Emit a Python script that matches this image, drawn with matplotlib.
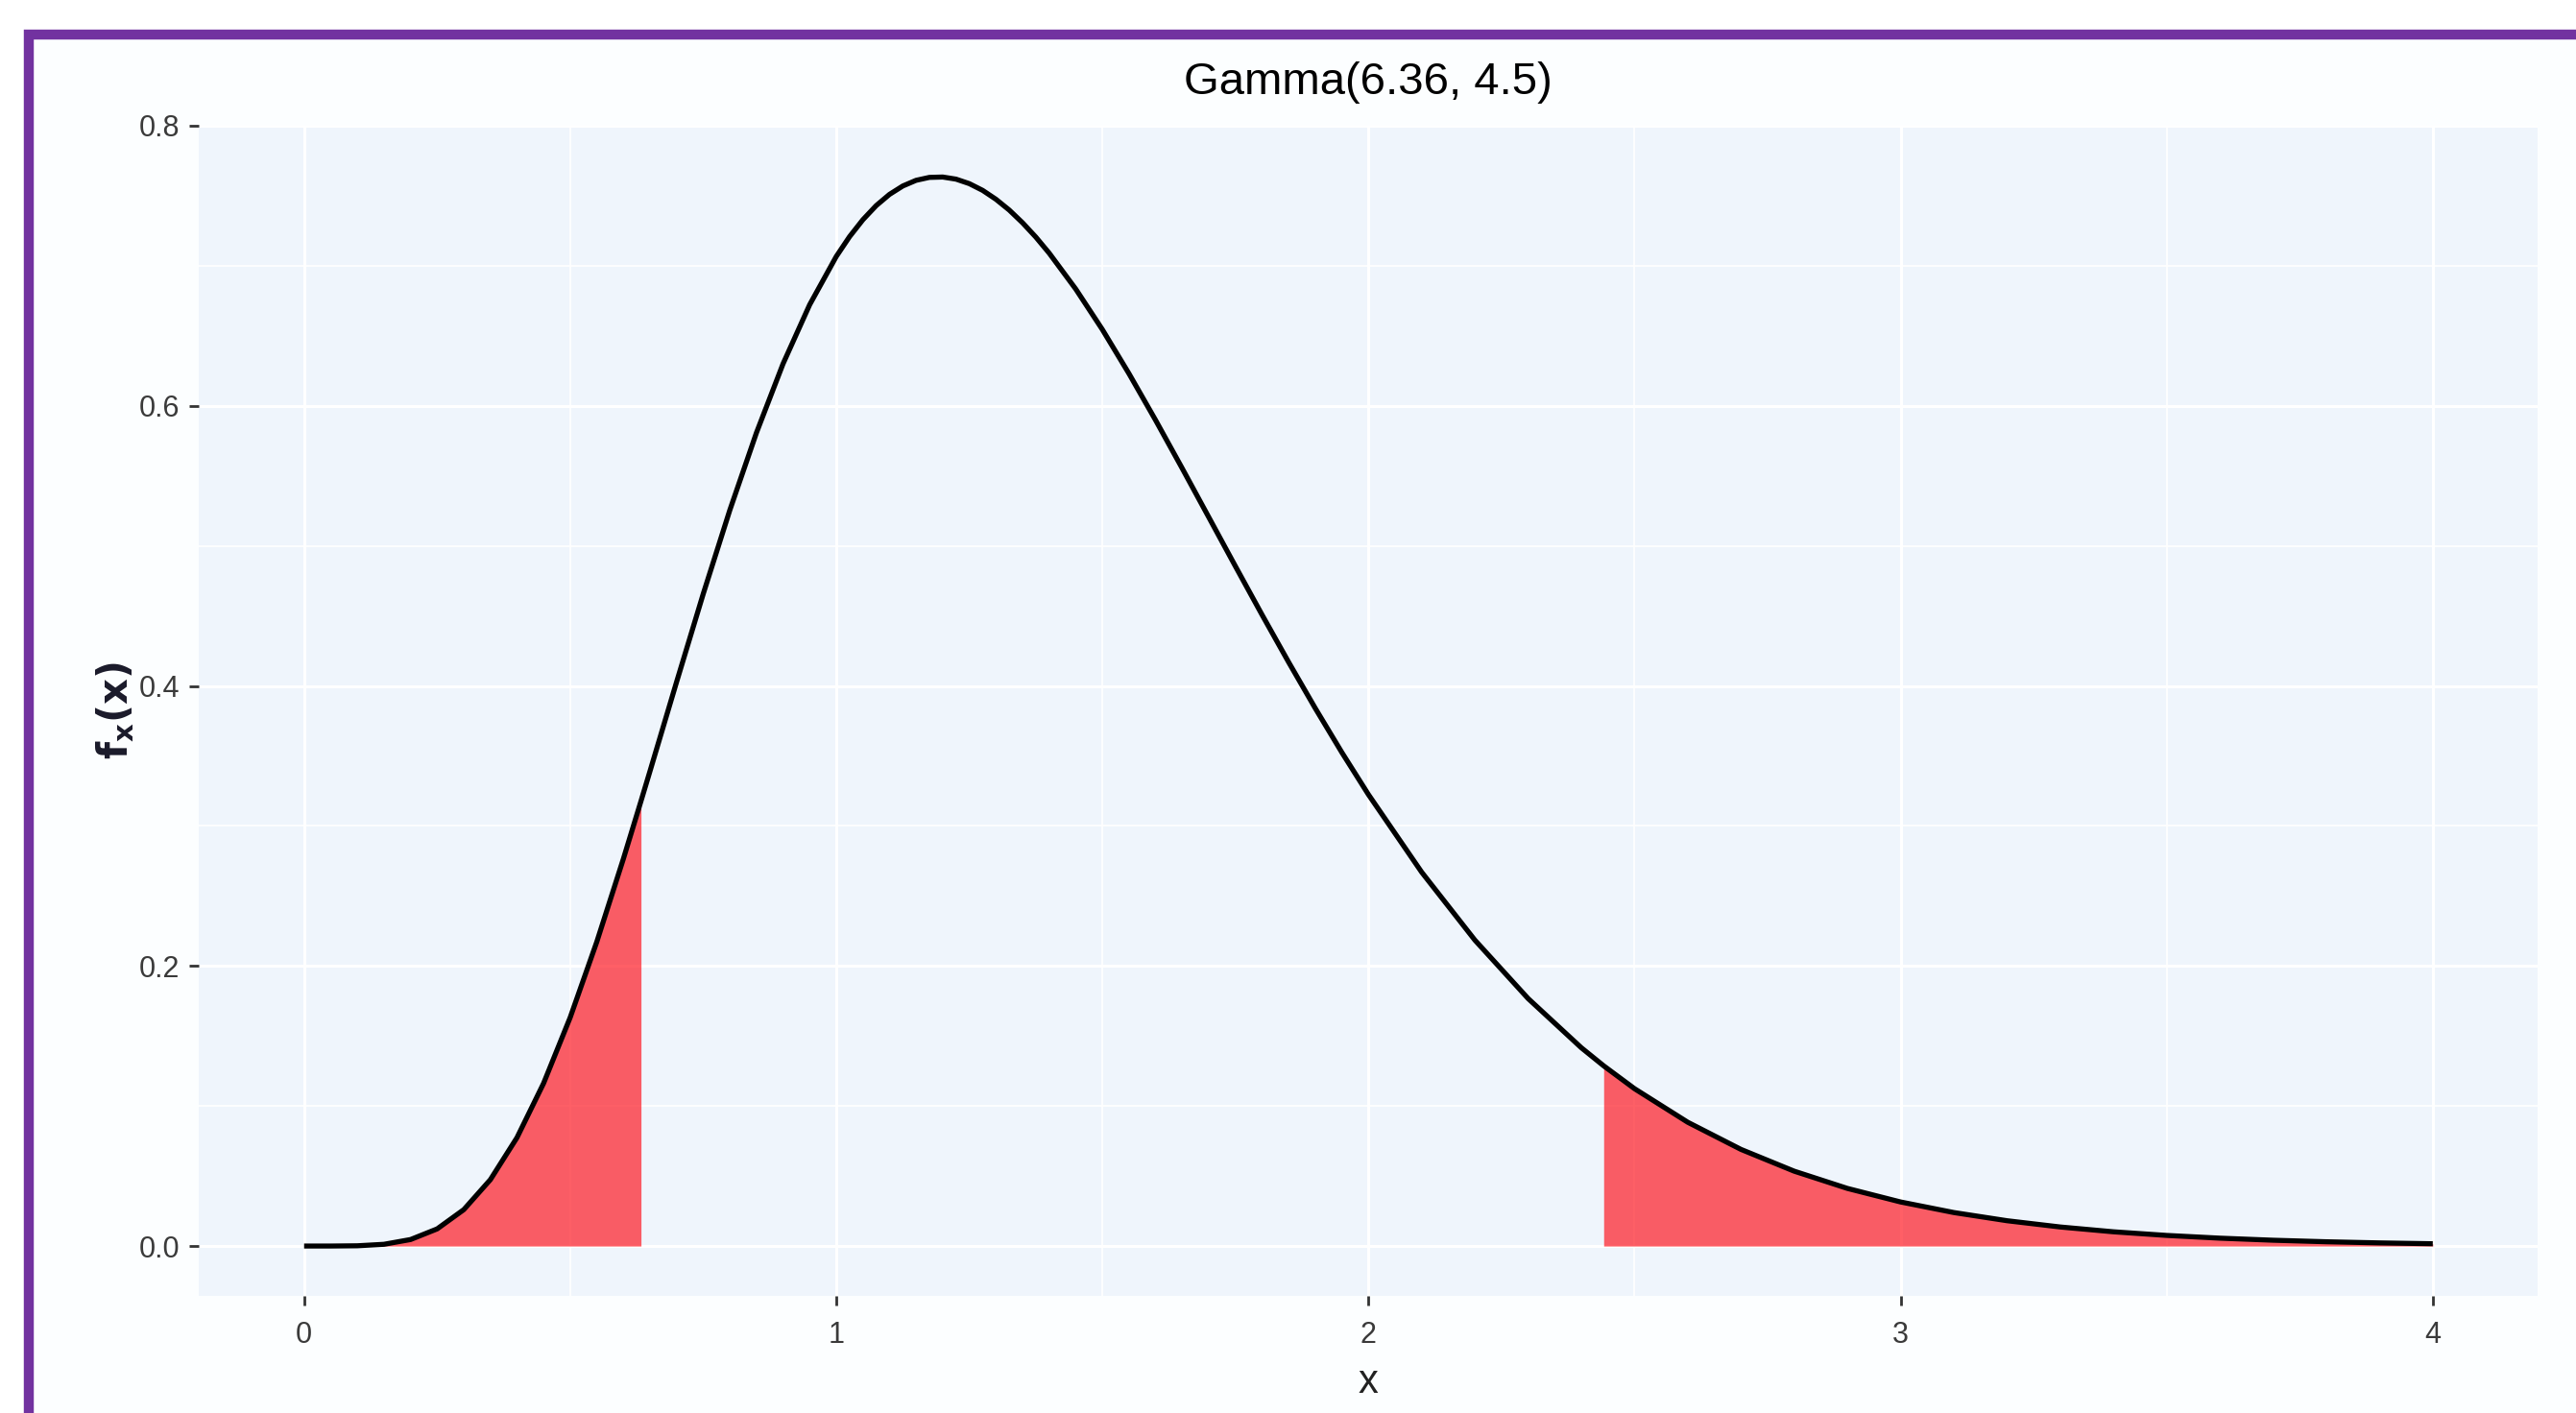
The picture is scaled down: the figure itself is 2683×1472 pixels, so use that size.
import matplotlib
matplotlib.use("Agg")
import matplotlib.pyplot as plt
from matplotlib.patches import Rectangle
import numpy as np

plt.rcParams['font.family'] = ['Liberation Sans Narrow', 'Liberation Sans', 'DejaVu Sans']

# Density curve values
x_vals = [0.0, 0.05, 0.10, 0.15, 0.20, 0.25, 0.30, 0.35, 0.40, 0.45, 0.50, 0.55, 0.60,
          0.633, 0.65, 0.70, 0.75, 0.80, 0.85, 0.90, 0.95, 1.00, 1.025, 1.05, 1.075, 1.10,
          1.125, 1.15, 1.175, 1.20, 1.225, 1.25, 1.275, 1.30, 1.325, 1.35, 1.375, 1.40,
          1.45, 1.50, 1.55, 1.60, 1.65, 1.70, 1.75, 1.80, 1.85,
          1.90, 1.95, 2.00, 2.10, 2.20, 2.30, 2.40, 2.442, 2.50, 2.60, 2.70, 2.80, 2.90,
          3.00, 3.10, 3.20, 3.30, 3.40, 3.50, 3.60, 3.70, 3.80, 3.90, 4.00]
density = [0.0, 0.00001, 0.00018, 0.00124, 0.00464, 0.01224, 0.02598, 0.04740, 0.07741,
           0.11622, 0.16324, 0.21725, 0.27658, 0.3177, 0.33917, 0.40290, 0.46571, 0.52556,
           0.58077, 0.63003, 0.67220, 0.70665, 0.72082, 0.73289, 0.74297, 0.75098,
           0.75698, 0.76103, 0.76312, 0.76338, 0.76187, 0.75866, 0.75386, 0.74750,
           0.73981, 0.73072, 0.72049, 0.70908, 0.68339, 0.65448, 0.62300, 0.58978,
           0.55538, 0.52043, 0.48544, 0.45082, 0.41695, 0.38408, 0.35250, 0.32241,
           0.26700, 0.21847, 0.17676, 0.14162, 0.1287, 0.11237, 0.08841, 0.06902,
           0.05347, 0.04115, 0.03147, 0.02392, 0.01808, 0.01360, 0.01017, 0.00758,
           0.00562, 0.00415, 0.00305, 0.00224, 0.00164]
lower_cut = 0.633
upper_cut = 2.442
title_text = "Gamma(6.36, 4.5)"
x_ticks = [0, 1, 2, 3, 4]
y_ticks = [0.0, 0.2, 0.4, 0.6, 0.8]
y_tick_labels = ["0.0", "0.2", "0.4", "0.6", "0.8"]

W, H = 2683, 1472
fig = plt.figure(figsize=(W / 100, H / 100), dpi=100, facecolor='white')

# purple frame (cropped at right and bottom)
frame = Rectangle((29.5 / W, -0.2), 1.2, 1.2 - 35.5 / H,
                  transform=fig.transFigure, facecolor='#FCFEFF',
                  edgecolor='#7232A0', linewidth=7.5, zorder=-10)
fig.patches.append(frame)

ax = fig.add_axes([207 / W, 1 - 1350 / H, (2643 - 207) / W, (1350 - 131) / H])
ax.set_zorder(5)
ax.set_facecolor('#EFF5FC')
for s in ax.spines.values():
    s.set_visible(False)

xa = np.array(x_vals)
da = np.array(density)

ax.set_xlim(-0.198, 4.197)
ax.set_ylim(-0.0356, 0.7995)

ax.set_xticks(x_ticks)
ax.set_xticklabels([str(t) for t in x_ticks])
ax.set_yticks(y_ticks)
ax.set_yticklabels(y_tick_labels)
ax.set_xticks([0.5, 1.5, 2.5, 3.5], minor=True)
ax.set_yticks([0.1, 0.3, 0.5, 0.7], minor=True)
ax.grid(which='major', color='white', linewidth=2.2, zorder=0)
ax.grid(which='minor', color='white', linewidth=1.2, zorder=0)
ax.set_axisbelow(True)
ax.tick_params(which='major', length=7, width=2, color='#333333',
               labelsize=22, labelcolor='#3a3a3a', pad=7)
ax.tick_params(axis='x', pad=12)
ax.tick_params(which='minor', length=0)

mlow = xa <= lower_cut
ax.fill_between(xa[mlow], 0, da[mlow], color='#FF0A14', alpha=0.65, linewidth=0, zorder=2)
mup = xa >= upper_cut
ax.fill_between(xa[mup], 0, da[mup], color='#FF0A14', alpha=0.65, linewidth=0, zorder=2)

ax.plot(xa, da, color='black', linewidth=3.8, zorder=3,
        solid_joinstyle='round', solid_capstyle='butt')

ax.set_title(title_text, fontsize=34, color='black', pad=24)
ax.set_xlabel("x", fontsize=30, color='#222222', labelpad=10)
ax.set_ylabel(r"$\mathbf{f_x(x)}$", fontsize=30, color='#1a1a2a', labelpad=2)

fig.savefig("out.png", dpi=100, facecolor='white')
